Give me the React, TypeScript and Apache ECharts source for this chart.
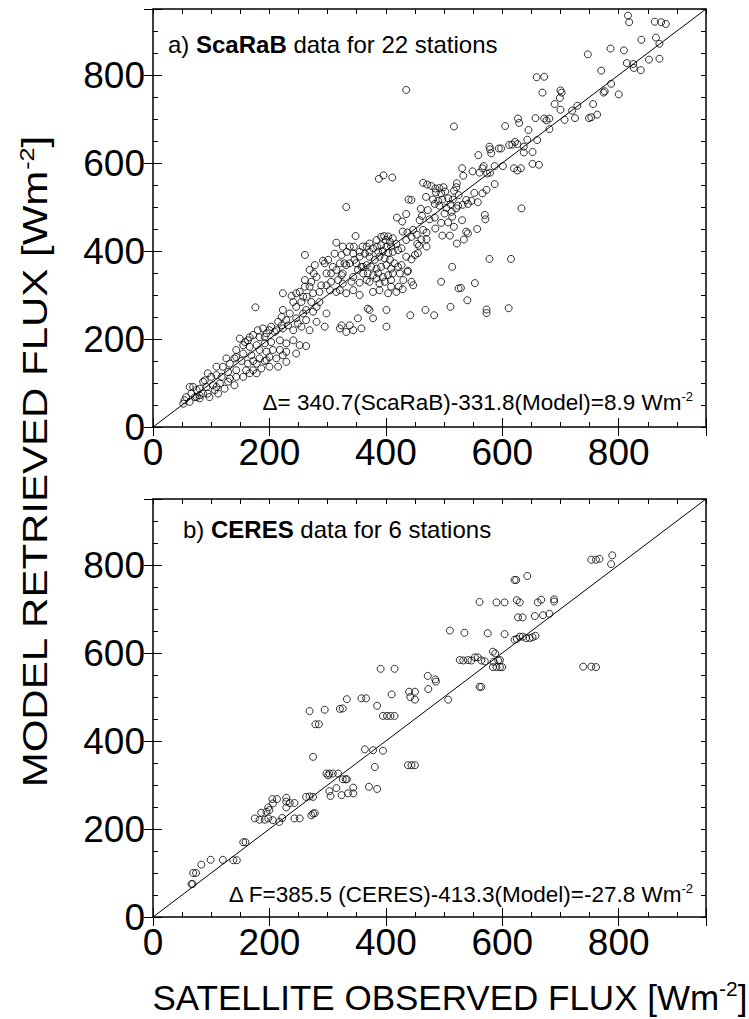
import React, { useEffect, useRef } from "react";
import * as echarts from "echarts";

// ---------- data (satellite observed flux, model retrieved flux) [W m-2] ----------
const axisMin = 0;
const axisMax = 950;
const tickLabels = [0, 200, 400, 600, 800];
const identityLine = [[0, 0], [950, 950]];

const scarabUpper = [
  [816, 935], [818, 920], [862, 921], [873, 920], [881, 916], [839, 880], [864, 885], [870, 871],
  [852, 835], [870, 837], [825, 825], [826, 816], [814, 827], [838, 811], [747, 847], [786, 860],
  [809, 856], [770, 810], [787, 780], [774, 760], [776, 763], [800, 756], [659, 795], [672, 796],
  [669, 760], [700, 765], [702, 760], [699, 748], [690, 734], [700, 721], [720, 719], [729, 730],
  [725, 702], [707, 698], [756, 734], [749, 702], [753, 704], [763, 710], [657, 702], [672, 701],
  [676, 697], [681, 701], [681, 677], [627, 701], [629, 691], [605, 684], [645, 675], [660, 652],
  [643, 653], [637, 637], [637, 624], [652, 625], [652, 598], [663, 596], [622, 648], [626, 643],
  [612, 641], [617, 642], [594, 633], [598, 633], [581, 622], [578, 637], [579, 631], [559, 618],
  [587, 593], [601, 593], [620, 588], [626, 583], [632, 588], [568, 593], [566, 588], [549, 581],
  [561, 578], [574, 576], [579, 578], [531, 588], [533, 571], [587, 552], [573, 539], [566, 531],
  [552, 532], [547, 514], [558, 511], [538, 516], [541, 507], [532, 505], [633, 497], [570, 482],
  [571, 472], [557, 450], [538, 444], [541, 440], [531, 470], [435, 766],
];

const scarabMid = [
  [517, 683], [388, 564], [396, 572], [411, 567], [332, 500], [464, 555], [471, 551], [478, 548],
  [485, 542], [492, 543], [499, 545], [486, 533], [495, 531], [502, 535], [517, 537], [522, 554],
  [521, 545], [525, 527], [439, 517], [444, 516], [469, 523], [481, 517], [490, 514], [497, 517],
  [507, 520], [515, 517], [511, 506], [504, 498], [492, 503], [484, 507], [501, 485], [513, 489],
  [521, 497], [524, 503], [460, 496], [472, 493], [462, 480], [475, 472], [484, 476], [458, 470],
  [419, 476], [428, 467], [435, 484], [447, 448], [437, 442], [453, 437], [464, 448], [470, 442],
  [461, 426], [470, 427], [457, 412], [470, 410], [454, 416], [485, 451], [497, 435], [510, 435],
  [495, 464], [507, 465], [517, 455], [514, 478], [522, 417], [514, 364], [495, 330], [525, 315],
  [435, 387], [444, 381], [438, 355], [427, 368], [444, 330], [447, 322], [429, 313], [422, 319],
  [437, 353], [450, 391], [455, 395],
];

const scarabCore = [
  [397, 434], [404, 433], [400, 425], [407, 421], [412, 429], [418, 416], [409, 410], [401, 410],
  [392, 413], [385, 410], [378, 406], [387, 398], [395, 400], [404, 396], [412, 398], [421, 402],
  [427, 406], [372, 417], [367, 410], [360, 410], [348, 434], [345, 410], [338, 410], [333, 398],
  [326, 410], [315, 419], [324, 391], [312, 394], [321, 372], [329, 372], [338, 372], [346, 380],
  [355, 387], [364, 394], [372, 387], [381, 380], [389, 387], [398, 383], [407, 380], [415, 372],
  [421, 364], [409, 360], [401, 368], [392, 364], [384, 360], [375, 364], [367, 368], [358, 364],
  [352, 357], [361, 349], [369, 349], [378, 345], [387, 349], [395, 341], [404, 345], [412, 349],
  [326, 349], [318, 334], [309, 364], [301, 380], [295, 372], [292, 378], [278, 368], [276, 349],
  [269, 357], [261, 334], [272, 330], [281, 341], [298, 349], [306, 330], [326, 326], [341, 330],
  [355, 328], [372, 330], [389, 326], [398, 330], [409, 334], [409, 319], [418, 307], [404, 304],
  [389, 311], [378, 307], [355, 300], [344, 311], [332, 304], [315, 307], [304, 311], [289, 322],
  [275, 304], [261, 319], [258, 296], [246, 304], [238, 298], [223, 304], [261, 391],
  [321, 224], [332, 216], [324, 231], [338, 231], [344, 220], [358, 224], [352, 247], [378, 247],
  [372, 266], [401, 228], [369, 269], [442, 254], [468, 266], [401, 266],
  [578, 382], [615, 382], [529, 316], [553, 327], [540, 288], [511, 273], [483, 254], [573, 267],
  [573, 259], [611, 270], [534, 426],
];

const scarabDense = [
  [384, 425], [392, 432], [372, 398], [355, 398], [344, 394], [349, 372], [361, 364], [332, 368],
  [315, 357], [306, 349], [324, 345], [344, 341], [367, 334], [384, 338], [424, 349], [430, 334],
  [298, 322], [321, 311], [286, 307], [269, 319], [252, 307], [264, 296], [435, 425], [444, 432],
  [429, 444], [158, 193], [166, 204], [183, 204], [195, 213], [209, 216], [221, 231], [232, 231],
  [249, 235], [258, 258], [275, 262], [286, 284], [272, 284], [255, 284], [241, 284], [221, 250],
  [203, 228], [192, 205], [143, 159], [126, 156], [109, 137], [94, 122], [89, 106], [109, 91],
  [123, 87], [75, 68], [86, 76], [172, 150], [183, 156], [195, 152],
];

const scarabLow = [
  [176, 272], [246, 273], [263, 266], [281, 273], [298, 258], [235, 258], [223, 266], [215, 239],
  [229, 243], [246, 247], [263, 243], [281, 239], [295, 228], [269, 220], [255, 228], [241, 220],
  [223, 224], [212, 220], [200, 220], [189, 224], [180, 220], [172, 209], [163, 197], [155, 186],
  [149, 201], [166, 182], [178, 186], [192, 190], [203, 193], [218, 197], [229, 190], [241, 197],
  [252, 186], [263, 184], [246, 167], [229, 171], [218, 175], [206, 175], [195, 171], [183, 175],
  [169, 163], [155, 167], [143, 175], [140, 156], [152, 150], [163, 144], [178, 144], [192, 150],
  [200, 159], [212, 156], [223, 163], [229, 148], [215, 137], [200, 137], [186, 133], [172, 129],
  [160, 129], [143, 129], [132, 144], [129, 125], [120, 137], [118, 114], [132, 110], [143, 114],
  [155, 114], [166, 122], [178, 122], [140, 95], [129, 103], [115, 99], [109, 118], [100, 114],
  [103, 95], [92, 91], [86, 103], [80, 87], [94, 76], [106, 84], [112, 76], [97, 68], [80, 72],
  [75, 84], [69, 91], [63, 91], [66, 76], [57, 68], [54, 61], [63, 57], [72, 68], [52, 53], [80, 65],
];

const ceresPoints = [
  [391, 564], [415, 564], [472, 548], [485, 540], [473, 518], [440, 512], [450, 512], [442, 500],
  [450, 494], [410, 506], [385, 480], [358, 497], [366, 497], [333, 495], [321, 473], [326, 474],
  [295, 471], [269, 468], [279, 438], [285, 438], [395, 457], [402, 457], [408, 457], [415, 457],
  [753, 812], [761, 812], [767, 814], [789, 822], [787, 802], [621, 766], [624, 766], [643, 775],
  [561, 716], [590, 715], [604, 715], [625, 720], [630, 715], [661, 715], [667, 721], [689, 722],
  [689, 717], [627, 681], [635, 681], [656, 684], [670, 686], [681, 689], [510, 651], [535, 646],
  [575, 645], [604, 643], [621, 630], [625, 632], [630, 637], [635, 637], [647, 634], [652, 636],
  [657, 639], [641, 634], [584, 603], [588, 599], [527, 584], [533, 583], [541, 584], [547, 583],
  [553, 590], [558, 590], [564, 583], [570, 581], [593, 583], [596, 584], [585, 580], [584, 568],
  [590, 568], [596, 568], [600, 568], [739, 569], [753, 569], [761, 568], [561, 523], [564, 523],
  [486, 535], [507, 494],
  [275, 364], [364, 381], [378, 379], [395, 378], [381, 341], [438, 345], [444, 345], [450, 345],
  [298, 326], [303, 326], [309, 326], [318, 326], [301, 322], [326, 313], [331, 313], [333, 313],
  [303, 286], [305, 275], [315, 293], [324, 277], [335, 281], [344, 281], [344, 294], [371, 296],
  [385, 291], [263, 273], [269, 274], [275, 273], [272, 231], [275, 235], [278, 236], [243, 224],
  [252, 224], [229, 271], [229, 262], [229, 249], [235, 259], [243, 259], [205, 268], [213, 268],
  [206, 258], [198, 249], [200, 243], [195, 239], [186, 237], [183, 221], [175, 224], [192, 221],
  [198, 224], [206, 220], [217, 216], [222, 225], [155, 170], [159, 170], [138, 129], [144, 129],
  [120, 130], [99, 130], [83, 119], [69, 100], [74, 100], [66, 75], [68, 75],
];

const titleA = ["a) ", "ScaRaB", " data for 22 stations"];
const titleB = ["b) ", "CERES", " data for 6 stations"];
const noteA = "\u0394= 340.7(ScaRaB)-331.8(Model)=8.9 Wm";
const noteB = "\u0394 F=385.5 (CERES)-413.3(Model)=-27.8 Wm";
const xName = "SATELLITE OBSERVED FLUX [Wm";
const yName = "MODEL RETRIEVED FLUX [Wm";

// ---------- layout ----------
const FONT = "'Liberation Sans', Arial, Helvetica, sans-serif";
const PLOT_LEFT = 153;
const PLOT_W = 553;
const PLOT_H = 418;
const TOP_A = 9;
const TOP_B = 499;

function makeAxis(dim: "x" | "y", gridIndex: number, position: string, kind: "main" | "major", labels: boolean) {
  const major = kind === "major";
  return {
    type: "value",
    gridIndex,
    position,
    min: axisMin,
    max: axisMax,
    interval: major ? 200 : 50,
    axisLine: major
      ? { show: false }
      : { show: true, onZero: false, lineStyle: { color: "#000", width: 1.5 } },
    axisTick: {
      show: true,
      inside: true,
      length: major ? 9 : 5,
      lineStyle: { color: "#000", width: 1 },
    },
    axisLabel: labels
      ? {
          show: true,
          customValues: tickLabels,
          fontSize: 37,
          fontFamily: FONT,
          color: "#000",
          margin: dim === "x" ? 7 : 8,
        }
      : { show: false },
    splitLine: { show: false },
    minorTick: { show: false },
  };
}

function scatterSeries(data: number[][], idx: number) {
  return {
    type: "scatter",
    xAxisIndex: idx,
    yAxisIndex: idx,
    data,
    symbol: "circle",
    symbolSize: 7,
    itemStyle: { color: "rgba(0,0,0,0)", borderColor: "#000", borderWidth: 1 },
    silent: true,
  };
}

function lineSeries(idx: number) {
  return {
    type: "line",
    xAxisIndex: idx,
    yAxisIndex: idx,
    data: identityLine,
    symbol: "none",
    lineStyle: { color: "#000", width: 1 },
    silent: true,
    z: 1,
  };
}

const noteRich = {
  m: { fontSize: 22.5, fontFamily: FONT, fill: "#000", color: "#000", lineHeight: 25 },
  s: { fontSize: 13, fontFamily: FONT, fill: "#000", color: "#000", lineHeight: 12, verticalAlign: "top" },
};
const titleRich = {
  n: { fontSize: 24, fontFamily: FONT, fill: "#000", color: "#000", lineHeight: 27 },
  b: { fontSize: 24, fontFamily: FONT, fontWeight: "bold", fill: "#000", color: "#000", lineHeight: 27 },
};
const nameRich = {
  m: { fontSize: 35, fontFamily: FONT, fill: "#000", color: "#000", lineHeight: 38 },
  s: { fontSize: 21, fontFamily: FONT, fill: "#000", color: "#000", lineHeight: 18, verticalAlign: "top" },
};

function textEl(x: number, y: number, text: string, rich: any, align: string, extra: any = {}) {
  return {
    type: "text",
    x,
    y,
    ...extra,
    style: {
      text,
      rich,
      align,
      verticalAlign: "middle",
      textAlign: align,
      textVerticalAlign: "middle",
      fill: "#000",
    },
    silent: true,
  };
}

export default function App() {
  const ref = useRef<HTMLDivElement>(null);

  useEffect(() => {
    if (!ref.current) return;
    const chart = echarts.init(ref.current, undefined, { renderer: "svg" });

    const option: any = {
      animation: false,
      backgroundColor: "#fff",
      grid: [
        { left: PLOT_LEFT, top: TOP_A, width: PLOT_W, height: PLOT_H },
        { left: PLOT_LEFT, top: TOP_B, width: PLOT_W, height: PLOT_H },
        { left: PLOT_LEFT, top: TOP_A, width: PLOT_W, height: PLOT_H },
        { left: PLOT_LEFT, top: TOP_B, width: PLOT_W, height: PLOT_H },
      ],
      xAxis: [
        makeAxis("x", 0, "bottom", "main", true),
        makeAxis("x", 0, "top", "main", false),
        makeAxis("x", 1, "bottom", "main", true),
        makeAxis("x", 1, "top", "main", false),
        makeAxis("x", 2, "bottom", "major", false),
        makeAxis("x", 2, "top", "major", false),
        makeAxis("x", 3, "bottom", "major", false),
        makeAxis("x", 3, "top", "major", false),
      ],
      yAxis: [
        makeAxis("y", 0, "left", "main", true),
        makeAxis("y", 0, "right", "main", false),
        makeAxis("y", 1, "left", "main", true),
        makeAxis("y", 1, "right", "main", false),
        makeAxis("y", 2, "left", "major", false),
        makeAxis("y", 2, "right", "major", false),
        makeAxis("y", 3, "left", "major", false),
        makeAxis("y", 3, "right", "major", false),
      ],
      series: [
        lineSeries(0),
        scatterSeries(scarabUpper, 0),
        scatterSeries(scarabMid, 0),
        scatterSeries(scarabCore, 0),
        scatterSeries(scarabDense, 0),
        scatterSeries(scarabLow, 0),
        lineSeries(2),
        scatterSeries(ceresPoints, 2),
      ],
      graphic: [
        textEl(168, 44, `{n|${titleA[0]}}{b|${titleA[1]}}{n|${titleA[2]}}`, titleRich, "left"),
        textEl(183, 529, `{n|${titleB[0]}}{b|${titleB[1]}}{n|${titleB[2]}}`, titleRich, "left"),
        textEl(693, 402, `{m|${noteA}}{s|-2}`, noteRich, "right"),
        textEl(693, 894, `{m|${noteB}}{s|-2}`, noteRich, "right"),
        textEl(450, 997, `{m|${xName}}{s|-2}{m|]}`, nameRich, "center"),
        textEl(35, 462, `{m|${yName}}{s|-2}{m|]}`, nameRich, "center", {
          rotation: Math.PI / 2,
          scaleX: 1.2,
        }),
      ],
    };

    chart.setOption(option);
    return () => chart.dispose();
  }, []);

  return (
    <div
      ref={ref}
      style={{ position: "absolute", left: 0, top: 0, width: 749, height: 1019, background: "#fff" }}
    />
  );
}
